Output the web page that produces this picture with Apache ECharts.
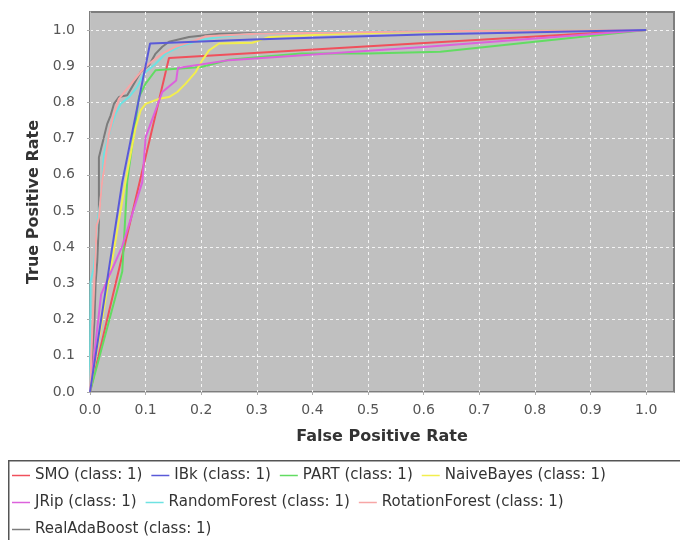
<!DOCTYPE html>
<html>
<head>
<meta charset="utf-8">
<script src="https://cdn.jsdelivr.net/npm/echarts@6/dist/echarts.min.js"></script>
<style>
  html, body { margin: 0; padding: 0; background: #fff; }
  #chart { width: 680px; height: 540px; }
</style>
</head>
<body>
<div id="chart"></div>
<script>
// ROC curves, [false positive rate, true positive rate] per classifier (class: 1)
const smo = [[0, 0], [0.142, 0.923], [1, 1]];
const ibk = [[0, 0], [0.003, 0.03], [0.058, 0.58], [0.108, 0.963], [0.292, 0.974], [0.6, 0.988], [1, 1]];
const part = [[0, 0], [0.058, 0.333], [0.067, 0.583], [0.088, 0.815], [0.1, 0.852], [0.118, 0.889],
  [0.2, 0.898], [0.25, 0.918], [0.305, 0.926], [0.38, 0.935], [0.5, 0.935], [0.63, 0.94], [0.8, 0.968], [1, 1]];
const naiveBayes = [[0, 0], [0.003, 0.03], [0.064, 0.583], [0.082, 0.731], [0.091, 0.778], [0.1, 0.796],
  [0.124, 0.81], [0.142, 0.815], [0.157, 0.829], [0.172, 0.852], [0.19, 0.884], [0.202, 0.917],
  [0.214, 0.944], [0.232, 0.963], [0.292, 0.965], [0.32, 0.98], [0.45, 0.99], [0.7, 0.998], [1, 1]];
const jrip = [[0, 0], [0.02, 0.27], [0.058, 0.403], [0.094, 0.58], [0.1, 0.704], [0.13, 0.829],
  [0.155, 0.861], [0.158, 0.895], [0.25, 0.917], [0.6, 0.953], [1, 1]];
const randomForest = [[0, 0], [0.001, 0.305], [0.007, 0.343], [0.014, 0.48], [0.019, 0.528], [0.022, 0.583],
  [0.025, 0.657], [0.031, 0.694], [0.04, 0.741], [0.046, 0.769], [0.055, 0.796], [0.07, 0.815],
  [0.085, 0.843], [0.097, 0.88], [0.118, 0.907], [0.136, 0.935], [0.16, 0.954], [0.196, 0.972],
  [0.232, 0.981], [0.292, 0.99], [0.449, 0.995], [0.7, 0.998], [1, 1]];
const rotationForest = [[0, 0], [0.004, 0.167], [0.012, 0.46], [0.016, 0.481], [0.022, 0.583],
  [0.028, 0.648], [0.034, 0.713], [0.043, 0.769], [0.052, 0.81], [0.064, 0.833], [0.079, 0.861],
  [0.091, 0.884], [0.106, 0.907], [0.13, 0.935], [0.154, 0.954], [0.19, 0.972], [0.208, 0.983],
  [0.3, 0.99], [0.6, 0.997], [1, 1]];
const realAdaBoost = [[0, 0], [0.008, 0.2], [0.01, 0.3], [0.013, 0.36], [0.016, 0.47], [0.016, 0.648],
  [0.025, 0.704], [0.031, 0.741], [0.037, 0.764], [0.043, 0.796], [0.052, 0.815], [0.067, 0.82],
  [0.079, 0.852], [0.091, 0.884], [0.106, 0.903], [0.118, 0.935], [0.13, 0.954], [0.142, 0.968],
  [0.178, 0.981], [0.232, 0.99], [0.3, 0.992], [0.6, 0.997], [1, 1]];

const seriesNames = ['SMO (class: 1)', 'IBk (class: 1)', 'PART (class: 1)', 'NaiveBayes (class: 1)',
  'JRip (class: 1)', 'RandomForest (class: 1)', 'RotationForest (class: 1)', 'RealAdaBoost (class: 1)'];
const seriesData = [smo, ibk, part, naiveBayes, jrip, randomForest, rotationForest, realAdaBoost];
const seriesColors = ['#f0505c', '#5a5ad8', '#62dc62', '#f2ee4e', '#dc62dc', '#6ee2e2', '#f7a6a6', '#7c7c7c'];
// drawing order: later entries end up on top
const seriesZ = [3, 9, 4, 5, 6, 7, 8, 2];

const tickValues = [0, 0.1, 0.2, 0.3, 0.4, 0.5, 0.6, 0.7, 0.8, 0.9, 1.0];

// legend rows (series names in each row) and the top of each row
const legendRows = [seriesNames.slice(0, 4), seriesNames.slice(4, 7), seriesNames.slice(7)];
const legendTops = [468, 495, 522];

const FONT = 'DejaVu Sans, sans-serif';

const chart = echarts.init(document.getElementById('chart'), null, { renderer: 'canvas' });

function axisCommon(name, isY) {
  return {
    type: 'value',
    min: 0,
    max: 1.05,
    interval: 0.1,
    name: name,
    nameLocation: 'middle',
    nameGap: isY ? 42 : 33,
    nameTextStyle: { fontFamily: FONT, fontSize: 16, fontWeight: 'bold', color: '#333' },
    offset: isY ? 5 : 4,
    axisLine: { show: true, lineStyle: { color: '#c4c4c4', width: 1 } },
    axisTick: { show: true, length: 3, lineStyle: { color: '#aaa' } },
    axisLabel: {
      fontFamily: FONT, fontSize: 14, color: '#555', margin: isY ? 10 : 7,
      showMaxLabel: false,
      formatter: v => tickValues.some(t => Math.abs(t - v) < 1e-9) ? v.toFixed(1) : ''
    },
    splitLine: {
      show: true, showMinLine: false, showMaxLine: false,
      lineStyle: { color: '#f4f4f4', type: [3, 3], width: 1 }
    }
  };
}

chart.setOption({
  animation: false,
  backgroundColor: '#fff',
  grid: {
    left: 90, right: 6, top: 12, bottom: 148,
    show: true, backgroundColor: '#c0c0c0', borderColor: '#7e7e7e', borderWidth: 2
  },
  xAxis: axisCommon('False Positive Rate', false),
  yAxis: axisCommon('True Positive Rate', true),
  graphic: [{
    type: 'rect', left: 8, top: 460, z: -1, silent: true,
    shape: { width: 700, height: 100 },
    style: { fill: '#fff', stroke: '#555', lineWidth: 1.5 }
  }],
  legend: legendRows.map((row, r) => ({
    data: row,
    left: 12, top: legendTops[r],
    orient: 'horizontal',
    padding: 0, itemGap: 9,
    icon: 'rect', itemWidth: 18, itemHeight: 1.5,
    textStyle: { fontFamily: FONT, fontSize: 15, color: '#333', padding: [0, 0, 0, 0] },
    selectedMode: false
  })),
  series: seriesNames.map((n, i) => ({
    name: n,
    type: 'line',
    data: seriesData[i],
    showSymbol: false,
    symbol: 'none',
    lineStyle: { width: 2, color: seriesColors[i] },
    itemStyle: { color: seriesColors[i] },
    z: seriesZ[i]
  }))
});
</script>
</body>
</html>
